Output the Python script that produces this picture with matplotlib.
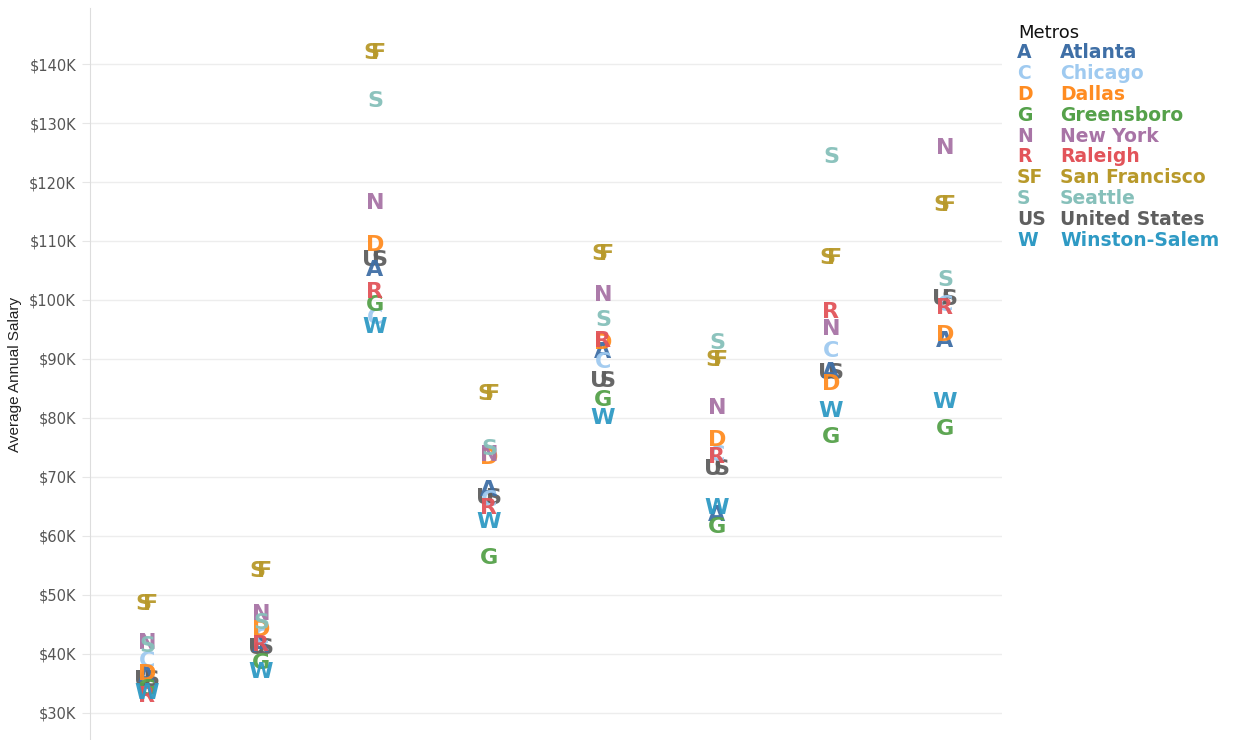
import matplotlib.pyplot as plt
import numpy as np

# Metros, legend codes and colours
metros = ["Atlanta", "Chicago", "Dallas", "Greensboro", "New York", "Raleigh",
          "San Francisco", "Seattle", "United States", "Winston-Salem"]
codes = ["A", "C", "D", "G", "N", "R", "SF", "S", "US", "W"]
colors = ["#3f6fa6", "#9fcaf0", "#ff8c21", "#55a14a", "#a874a6", "#e2545a",
          "#b8992a", "#86c0ba", "#5f5f5f", "#2f9ac4"]

# Average annual salary in $K, one value per column (8 columns)
atlanta = [36.3, 41.4, 105.1, 67.8, 91.2, 63.6, 87.8, 93.1]
chicago = [38.8, 42.7, 97.0, 66.1, 89.5, 73.7, 91.4, 99.2]
dallas = [36.6, 44.1, 109.3, 73.2, 92.7, 76.3, 85.8, 94.1]
greensboro = [34.0, 38.5, 99.2, 56.3, 83.0, 61.5, 76.8, 78.1]
new_york = [41.9, 46.8, 116.4, 73.7, 100.8, 81.7, 95.1, 125.8]
raleigh = [32.9, 41.5, 101.4, 64.7, 93.1, 73.4, 98.0, 98.6]
san_francisco = [48.5, 54.1, 141.9, 84.1, 107.8, 89.8, 107.1, 116.1]
seattle = [41.4, 45.3, 133.7, 74.7, 96.6, 92.7, 124.2, 103.4]
united_states = [35.6, 41.0, 106.8, 66.4, 86.3, 71.4, 87.6, 100.2]
winston_salem = [33.3, 37.0, 95.4, 62.4, 80.0, 64.7, 81.2, 82.7]

series = [atlanta, chicago, dallas, greensboro, new_york, raleigh,
          san_francisco, seattle, united_states, winston_salem]
yticks = np.arange(30, 141, 10)

fig = plt.figure(figsize=(12.42, 7.40), dpi=100)
ax = fig.add_axes([90 / 1242, 0, 912 / 1242, 732 / 740])

# draw United States first so other metros sit on top of it
order = [8, 0, 1, 2, 3, 4, 5, 6, 7, 9]
for i in order:
    code = codes[i]
    for col, val in enumerate(series[i]):
        if len(code) == 1:
            ax.annotate(code, (col, val), ha="center", va="center",
                        fontsize=16, fontweight="bold", color=colors[i], alpha=0.95)
        else:
            for ch, dx in zip(code, (-2.9, 2.9)):
                ax.annotate(ch, (col, val), xytext=(dx, 0), textcoords="offset points",
                            ha="center", va="center", fontsize=16,
                            fontweight="bold", color=colors[i], alpha=0.95)

ax.set_xlim(-0.5, 7.5)
ax.set_ylim(25.4, 149.5)
ax.set_xticks([])
ax.set_yticks(yticks)
ax.set_yticklabels(["$%dK" % v for v in yticks], fontsize=10.5, color="#555555")
ax.tick_params(axis="y", length=6, color="#e6e6e6", pad=4)
ax.grid(axis="y", color="#ededed", linewidth=1)
ax.set_axisbelow(True)
for s in ["top", "right", "bottom"]:
    ax.spines[s].set_visible(False)
ax.spines["left"].set_color("#dddddd")
ax.set_ylabel("Average Annual Salary", fontsize=11, family="Liberation Sans",
              color="#222222", labelpad=5)

# legend built by hand
fig.text(1018 / 1242, 1 - 33 / 740, "Metros", fontsize=13, va="center", color="#111111")
for i, name in enumerate(metros):
    y = 1 - (53 + i * 20.8) / 740
    fig.text(1017 / 1242, y, codes[i], fontsize=13.5, fontweight="bold",
             va="center", color=colors[i])
    fig.text(1060 / 1242, y, name, fontsize=13.5, fontweight="bold",
             va="center", color=colors[i])

plt.savefig("out.png", dpi=100)
